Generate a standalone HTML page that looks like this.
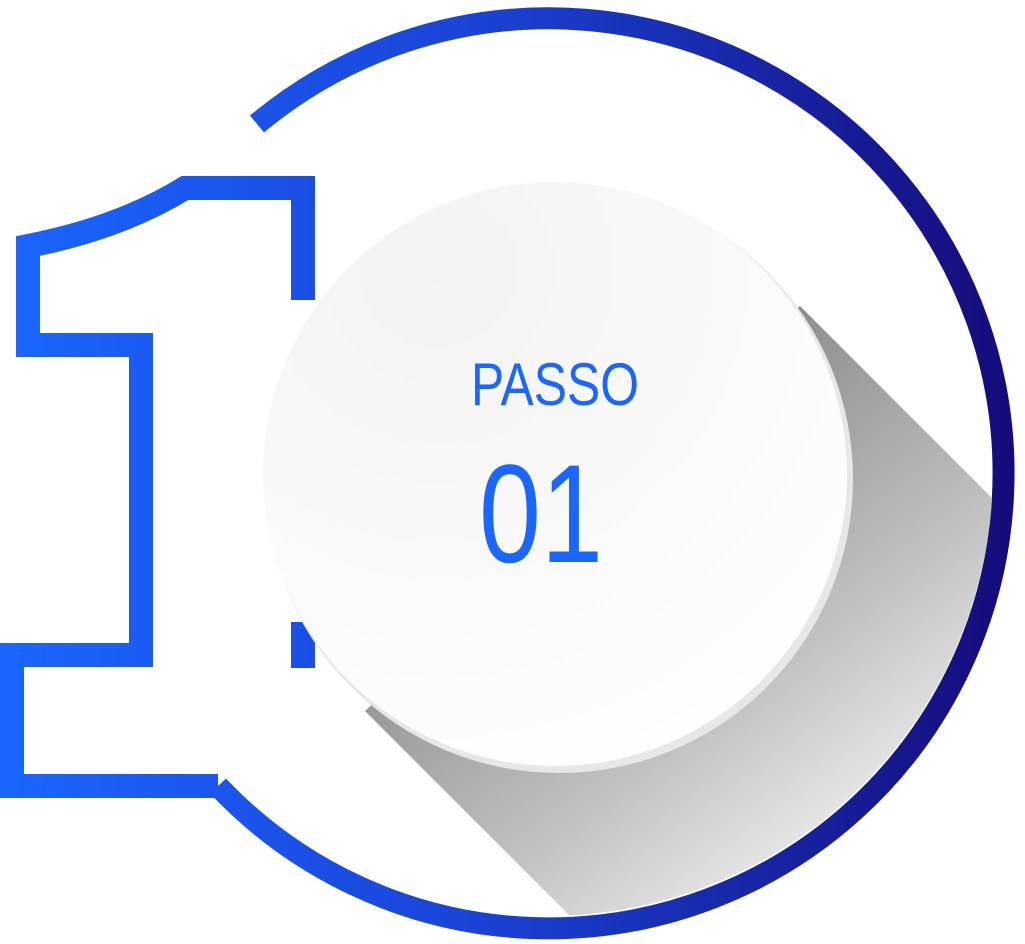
<!DOCTYPE html>
<html><head><meta charset="utf-8"><style>
html,body{margin:0;padding:0;background:#fff;width:1025px;height:944px;overflow:hidden;}
svg{display:block}
</style></head><body>
<svg width="1025" height="944" viewBox="0 0 1025 944" xmlns="http://www.w3.org/2000/svg">
<defs>
<linearGradient id="g" gradientUnits="userSpaceOnUse" x1="0" y1="0" x2="1025" y2="0">
<stop offset="0" stop-color="#1a66ff"/><stop offset="0.45" stop-color="#1a44d8"/><stop offset="1" stop-color="#150a78"/>
</linearGradient>
<linearGradient id="sh" gradientUnits="userSpaceOnUse" x1="600" y1="450" x2="900" y2="850">
<stop offset="0" stop-color="#8c8c8c"/><stop offset="0.55" stop-color="#c0c0c0"/><stop offset="1" stop-color="#f4f4f4"/>
</linearGradient>
<radialGradient id="wc" cx="0.3" cy="0.15" r="1">
<stop offset="0" stop-color="#f3f3f3"/><stop offset="1" stop-color="#ffffff"/>
</radialGradient>
<clipPath id="cc"><circle cx="547" cy="470" r="446"/></clipPath>
</defs>
<path d="M257,124 A455,455 0 1 1 218,786" fill="none" stroke="url(#g)" stroke-width="22"/>
<path d="M303,300 L303,188 L185,188 Q120,228 28,246 L28,345 L141,345 L141,655 L12,655 L12,786 L218,786 M303,668 L303,622" fill="none" stroke="url(#g)" stroke-width="24" stroke-linejoin="miter"/>
<g clip-path="url(#cc)">
<polygon points="800,306 1220,726 800,1146 365,711" fill="url(#sh)"/>
</g>
<circle cx="559" cy="479" r="294" fill="#e6e7e9"/>
<circle cx="555" cy="474" r="292" fill="url(#wc)"/>
<text x="555" y="405" text-anchor="middle" font-family="Liberation Sans, sans-serif" font-size="60" fill="#1a66ff" textLength="168" lengthAdjust="spacingAndGlyphs">PASSO</text>
<text x="541" y="562" text-anchor="middle" font-family="Liberation Sans, sans-serif" font-size="140" fill="#1a66ff" textLength="124" lengthAdjust="spacingAndGlyphs">01</text>
</svg>
</body></html>
